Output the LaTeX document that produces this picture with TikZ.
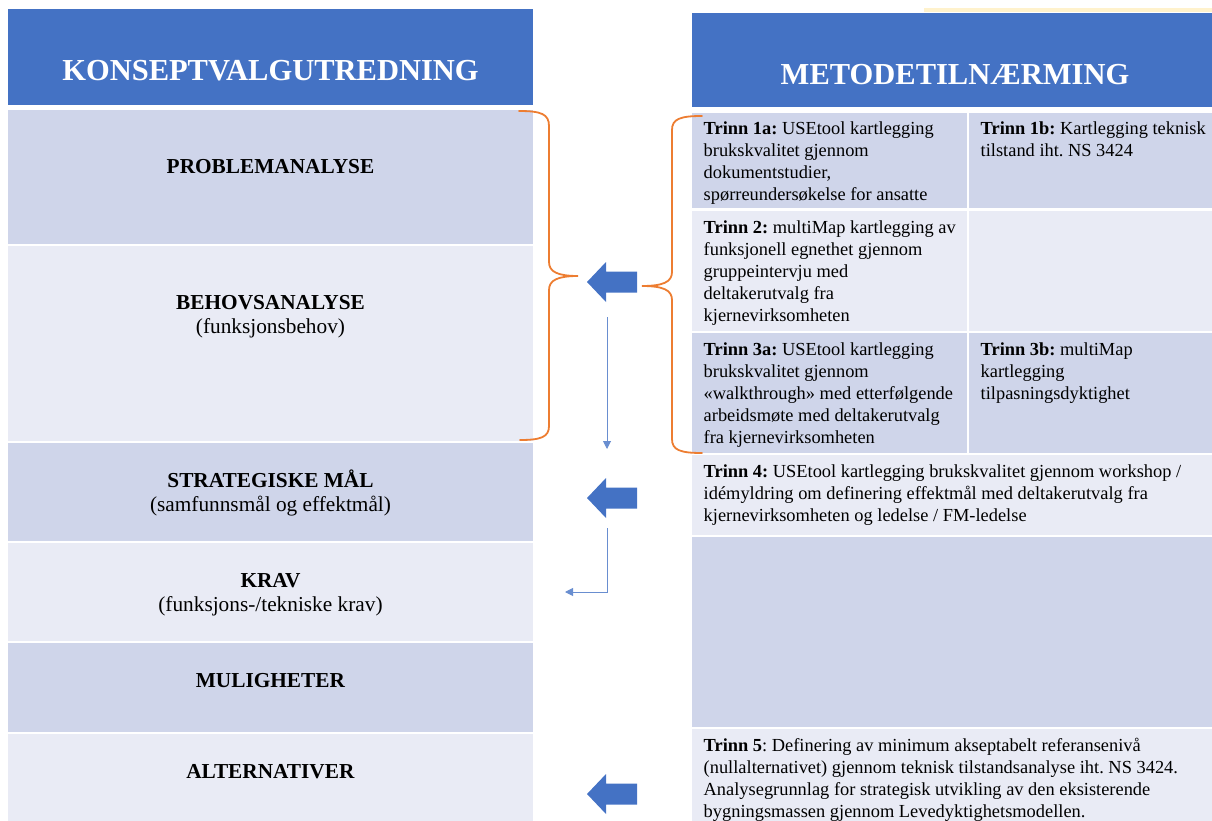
\documentclass[tikz,border=0pt]{standalone}
\usepackage{fontspec}
\setmainfont{Liberation Serif}
\usetikzlibrary{arrows.meta}
\definecolor{hdrblue}{HTML}{4472C4}
\definecolor{rowdark}{HTML}{CFD5EA}
\definecolor{rowlight}{HTML}{E9EBF5}
\definecolor{bracecol}{HTML}{ED7D31}
\definecolor{paleyellow}{HTML}{FFF2CC}
% invisible strut that fixes the height of the first line of a text block
\newcommand\myLead[1]{\rule{0pt}{#1}}
\frenchspacing
\begin{document}
\begin{tikzpicture}[x=1pt,y=-1pt,
  hdr/.style={anchor=base, inner sep=0, text=white,
    font=\fontsize{30.5}{36}\selectfont\bfseries},
  lbl/.style={anchor=north, align=center, inner sep=0,
    font=\fontsize{21.3}{24.5}\selectfont},
  celltext/.style={anchor=north west, align=left, inner sep=0,
    font=\fontsize{18.4}{22}\selectfont},
  bracepath/.style={draw=bracecol, line width=1.8pt, line cap=round},
  blockarrow/.style={fill=hdrblue},
  flowline/.style={draw=hdrblue!80, line width=1pt,
    -{Triangle[length=8pt,width=8pt]}}]
\useasboundingbox (0,0) rectangle (1212,821);

% ---- left table: konseptvalgutredning ----
\fill[hdrblue]  (8,9)   rectangle (533,105);
\fill[rowdark]  (8,110) rectangle (533,244);
\fill[rowlight] (8,246) rectangle (533,441);
\fill[rowdark]  (8,443) rectangle (533,541);
\fill[rowlight] (8,543) rectangle (533,641);
\fill[rowdark]  (8,643) rectangle (533,732);
\fill[rowlight] (8,734) rectangle (533,821);

\node[hdr] (kvu) at (270.5,81) {KONSEPTVALGUTREDNING};
\node[lbl] (prob) at (270.5,148) {\myLead{25pt}\textbf{PROBLEMANALYSE}};
\node[lbl] (behov) at (270.5,284) {\myLead{25pt}\textbf{BEHOVSANALYSE}\\(funksjonsbehov)};
\node[lbl] (strat) at (270.5,462) {\myLead{25pt}\textbf{STRATEGISKE MÅL}\\(samfunnsmål og effektmål)};
\node[lbl] (krav) at (270.5,562) {\myLead{25pt}\textbf{KRAV}\\(funksjons-/tekniske krav)};
\node[lbl] (mulig) at (270.5,662) {\myLead{25pt}\textbf{MULIGHETER}};
\node[lbl] (alt) at (270.5,753) {\myLead{25pt}\textbf{ALTERNATIVER}};

% ---- right table: metodetilnærming ----
\fill[paleyellow] (924,8) rectangle (1212,12);
\fill[hdrblue]  (692,13)    rectangle (1212,107);
\fill[rowdark]  (692,112.7) rectangle (967,208);
\fill[rowdark]  (969,112.7) rectangle (1212,208);
\fill[rowlight] (692,211)   rectangle (967,331);
\fill[rowlight] (969,211)   rectangle (1212,331);
\fill[rowdark]  (692,333)   rectangle (967,453);
\fill[rowdark]  (969,333)   rectangle (1212,453);
\fill[rowlight] (692,455)   rectangle (1212,535);
\fill[rowdark]  (692,537)   rectangle (1212,727);
\fill[rowlight] (692,729)   rectangle (1212,821);

\node[hdr] (metode) at (955,85) {METODETILNÆRMING};

\node[celltext] (t1a) at (703.5,114.7) {\myLead{20pt}\textbf{Trinn 1a:} USEtool kartlegging\\
  brukskvalitet gjennom\\ dokumentstudier,\\ spørreundersøkelse for ansatte};
\node[celltext] (t1b) at (980.5,114.7) {\myLead{20pt}\textbf{Trinn 1b:} Kartlegging teknisk\\
  tilstand iht. NS 3424};
\node[celltext] (t2) at (703.5,213) {\myLead{20pt}\textbf{Trinn 2:} multiMap kartlegging av\\
  funksjonell egnethet gjennom\\ gruppeintervju med\\ deltakerutvalg fra\\ kjernevirksomheten};
\node[celltext] (t3a) at (703.5,335) {\myLead{20pt}\textbf{Trinn 3a:} USEtool kartlegging\\
  brukskvalitet gjennom\\ «walkthrough» med etterfølgende\\ arbeidsmøte med deltakerutvalg\\
  fra kjernevirksomheten};
\node[celltext] (t3b) at (980.5,335) {\myLead{20pt}\textbf{Trinn 3b:} multiMap\\
  kartlegging\\ tilpasningsdyktighet};
\node[celltext] (t4) at (703.5,457) {\myLead{20pt}\textbf{Trinn 4:} USEtool kartlegging brukskvalitet gjennom workshop /\\
  idémyldring om definering effektmål med deltakerutvalg fra\\
  kjernevirksomheten og ledelse / FM-ledelse};
\node[celltext] (t5) at (703.5,731) {\myLead{20pt}\textbf{Trinn 5}: Definering av minimum akseptabelt referansenivå\\
  (nullalternativet) gjennom teknisk tilstandsanalyse iht. NS 3424.\\
  Analysegrunnlag for strategisk utvikling av den eksisterende\\
  bygningsmassen gjennom Levedyktighetsmodellen.};

% ---- braces ----
\coordinate (lbTop) at (519,111);
\coordinate (lbTip) at (578,276);
\coordinate (lbBot) at (520,440);
\draw[bracepath] (lbTop) .. controls (541,111) and (549,114) .. (549,126)
  -- (549,262) .. controls (549,272) and (558,276) .. (lbTip)
  .. controls (558,276) and (549,280) .. (549,290)
  -- (549,426) .. controls (549,437) and (541,440) .. (lbBot);

\coordinate (rbTop) at (702,116);
\coordinate (rbTip) at (642,286);
\coordinate (rbBot) at (702,453);
\draw[bracepath] (rbTop) .. controls (680,116) and (672,119) .. (672,130)
  -- (672,272) .. controls (672,282) and (663,286) .. (rbTip)
  .. controls (663,286) and (672,290) .. (672,300)
  -- (672,439) .. controls (672,450) and (680,453) .. (rbBot);

% ---- block arrows pointing left ----
\foreach \cy in {282,498,794}{
  \fill[blockarrow] (587,\cy) -- ++(19,-20) -- ++(0,9.5) -- ++(31,0)
    -- ++(0,21) -- ++(-31,0) -- ++(0,9.5) -- cycle;
}

% ---- thin flow arrows ----
\coordinate (f1s) at (607,317);
\coordinate (f1e) at (607,449);
\draw[flowline] (f1s) -- (f1e);
\coordinate (f2s) at (607,528);
\coordinate (f2e) at (565,592);
\draw[flowline] (f2s) |- (f2e);
\end{tikzpicture}
\end{document}
